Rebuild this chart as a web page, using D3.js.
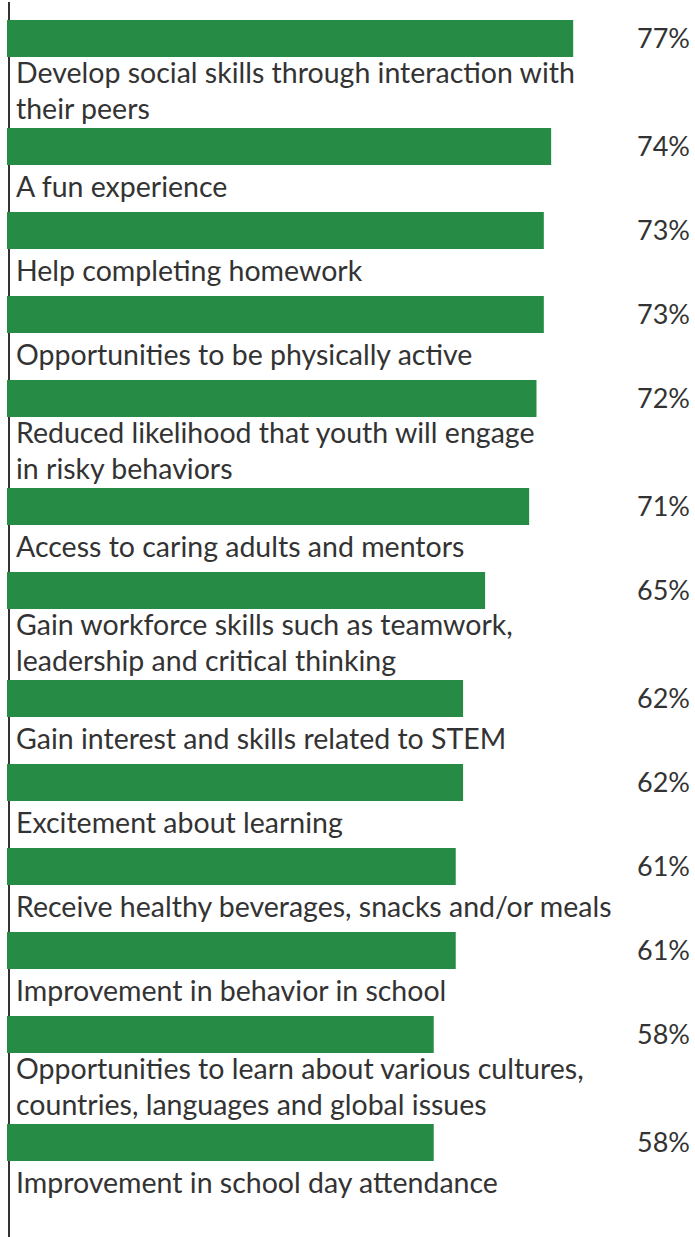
<!DOCTYPE html>
<html>
<head>
<meta charset="utf-8">
<script src="https://cdn.jsdelivr.net/npm/d3@7"></script>
<style>
  html, body { margin: 0; padding: 0; background: #fff; }
  svg text { font-family: Lato, "Open Sans", sans-serif; fill: #333; }
</style>
</head>
<body>
<svg id="chart" width="695" height="1237"></svg>
<script>
// label lines are split with "\n" the way the reference wraps them
const categories = [
  "Develop social skills through interaction with\ntheir peers",
  "A fun experience",
  "Help completing homework",
  "Opportunities to be physically active",
  "Reduced likelihood that youth will engage\nin risky behaviors",
  "Access to caring adults and mentors",
  "Gain workforce skills such as teamwork,\nleadership and critical thinking",
  "Gain interest and skills related to STEM",
  "Excitement about learning",
  "Receive healthy beverages, snacks and/or meals",
  "Improvement in behavior in school",
  "Opportunities to learn about various cultures,\ncountries, languages and global issues",
  "Improvement in school day attendance"
];
const values = [77, 74, 73, 73, 72, 71, 65, 62, 62, 61, 61, 58, 58];

const width = 695, height = 1237;
const left = 8;
const barH = 37;
const rowBase = 84;     // pitch of a row whose label is one line
const rowExtra = 24;    // added per extra label line
const lineH = 36;

const svg = d3.select("#chart");

const x = d3.scaleLinear().domain([0, 100]).range([left, left + 734]);

// stack rows: each row is bar + its label lines
const rows = categories.map((c, i) => ({ label: c, value: values[i], lines: c.split("\n") }));
let acc = 20;
rows.forEach(r => {
  r.y = acc;
  acc += rowBase + rowExtra * (r.lines.length - 1);
});

// the vertical baseline
svg.append("line")
    .attr("x1", left + 1).attr("x2", left + 1)
    .attr("y1", 2).attr("y2", height)
    .attr("stroke", "#333")
    .attr("stroke-width", 2);

const g = svg.selectAll("g.row")
  .data(rows).enter()
  .append("g")
    .attr("class", "row")
    .attr("transform", d => `translate(0,${d.y})`);

g.append("rect")
    .attr("x", x(0) - 1)
    .attr("y", 0)
    .attr("width", d => x(d.value) - x(0) + 1)
    .attr("height", barH)
    .attr("fill", "#268b45");

g.append("text")
    .attr("x", 690)
    .attr("y", barH / 2)
    .attr("dy", "0.36em")
    .attr("text-anchor", "end")
    .style("font-size", "27px")
    .text(d => d.value + "%");

g.append("text")
    .style("font-size", "28.5px")
    .selectAll("tspan")
    .data(d => d.lines.map(l => ({ l, n: d.lines.length })))
    .enter().append("tspan")
      .attr("x", 16)
      .attr("y", (d, i) => barH + (d.n > 1 ? 26 : 32) + i * lineH)
      .text(d => d.l);
</script>
</body>
</html>
